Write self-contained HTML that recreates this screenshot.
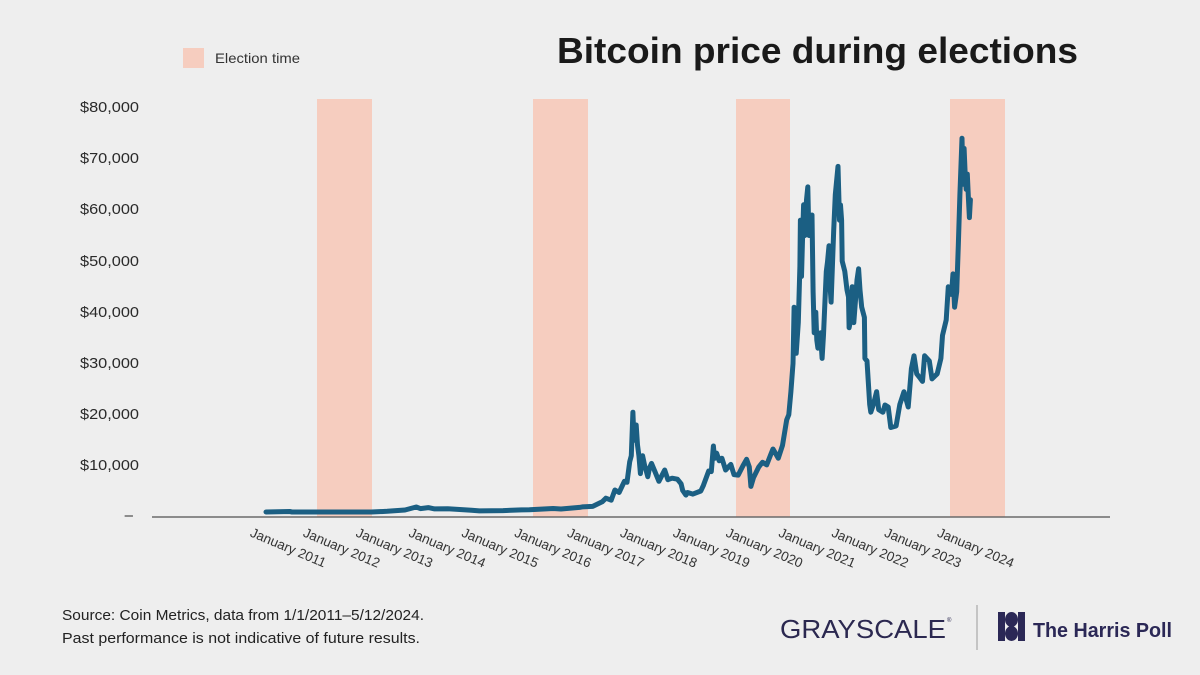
<!DOCTYPE html>
<html>
<head>
<meta charset="utf-8">
<style>
html,body{margin:0;padding:0;background:#eeeeee;}
svg{display:block;}
text{font-family:"Liberation Sans",sans-serif;}
</style>
</head>
<body>
<svg width="1200" height="675" viewBox="0 0 1200 675" xmlns="http://www.w3.org/2000/svg">
<rect x="0" y="0" width="1200" height="675" fill="#eeeeee"/>

<!-- Title -->
<text x="557" y="63" font-size="36" font-weight="bold" fill="#1a1a1a" textLength="521" lengthAdjust="spacingAndGlyphs">Bitcoin price during elections</text>

<!-- Legend -->
<rect x="183" y="48" width="21" height="20" fill="#f6cdbf"/>
<text x="215" y="63" font-size="14" fill="#333" textLength="85" lengthAdjust="spacingAndGlyphs">Election time</text>

<!-- Election bands -->
<rect x="317" y="99" width="55" height="418" fill="#f6cdbf"/>
<rect x="533" y="99" width="55" height="418" fill="#f6cdbf"/>
<rect x="736" y="99" width="54" height="418" fill="#f6cdbf"/>
<rect x="950" y="99" width="55" height="418" fill="#f6cdbf"/>

<!-- Y axis labels -->
<g font-size="15" fill="#2a2a2a" text-anchor="end">
<text x="139" y="112" textLength="59" lengthAdjust="spacingAndGlyphs">$80,000</text>
<text x="139" y="163" textLength="59" lengthAdjust="spacingAndGlyphs">$70,000</text>
<text x="139" y="214" textLength="59" lengthAdjust="spacingAndGlyphs">$60,000</text>
<text x="139" y="266" textLength="59" lengthAdjust="spacingAndGlyphs">$50,000</text>
<text x="139" y="317" textLength="59" lengthAdjust="spacingAndGlyphs">$40,000</text>
<text x="139" y="368" textLength="59" lengthAdjust="spacingAndGlyphs">$30,000</text>
<text x="139" y="419" textLength="59" lengthAdjust="spacingAndGlyphs">$20,000</text>
<text x="139" y="470" textLength="59" lengthAdjust="spacingAndGlyphs">$10,000</text>
<text x="133" y="520">–</text>
</g>

<!-- Price line -->
<polyline fill="none" stroke="#1b5f83" stroke-width="5" stroke-linejoin="round" stroke-linecap="round" points="
266,512 289.7,511.5 292,512 371.4,512 387.2,511.3 405,510 416.2,507 420.4,508.6 428.3,507.6 434.6,508.9 447.8,508.8 471.5,510.2 479.4,510.9 503.1,510.6 521.5,509.9 529.4,509.8 553.1,508.5 561,509 579.5,507.4 582.2,506.9 592.7,506.4 602.2,501.8 605.9,498.2 611.2,500.2 614.9,490 619.1,492.5 624.4,481.3 627,482.3 629.7,461.8 631.3,455.7 632.9,412.2 633.6,430 634.6,440.3 636.2,425 637.5,445 638.9,455.7 640.4,473.6 642.6,455.7 644.7,465.9 646,470 647.8,476.7 649.5,468 651.5,463.4 654.7,471 658.9,481.3 664.7,470 667.9,479.7 672.1,478.2 677.4,479.2 681.1,483.8 682.7,490.5 685.9,495.1 687.6,492.5 692.9,494.1 700.8,491 703.4,485.4 708.7,471 711.3,471.6 713.4,446 714.2,455 715,458.2 716.6,453.1 719.2,460.8 721.9,458.2 725.6,470 730.8,464.4 734,474.6 738.2,475.1 742.9,465.9 746.6,459.3 749.3,466.9 750.9,486.4 753.5,477.7 758.8,466.9 762.5,462.3 766.7,464.9 770.9,454.1 773,449 775.1,452.6 778.3,458.2 782.5,445.4 786.7,419.8 788.8,414.7 790.9,391.7 793,363.5 794.1,307.2 795,340 796.2,353.3 798.3,322.6 799.9,266.2 800.4,220.2 801.5,276.5 802.5,240 803.6,204.8 804.7,235.5 806.5,200 807.8,186.9 808.9,235.5 810,222 812,215 813.1,291.8 814.2,332.8 815.8,312.3 816.8,340 817.9,348.2 819,336 820.5,332.8 822.1,358.4 823.5,335 824.7,307.2 826.3,271.4 827.5,262 829,245.8 830,285 831.1,302.1 833.7,230.4 835.3,194.6 838,166.4 839.5,220.2 840.5,205 841.6,220.2 842.2,261.1 844.8,271.4 847,290 848.5,297 849.1,327.7 851.2,317.4 852.2,286.7 853.8,322.6 855.5,300 857,280 858.6,268.8 860,290 861.7,307.2 864.4,317.4 864.9,358.4 867,361 869.7,404.5 870.8,412.2 873.4,404.5 876.6,391.7 878.7,409.6 882.9,412.2 885,405 888.2,407 890.8,427.5 896.1,426 899.8,404.5 904,391.7 908.2,407 911.4,368.6 914,355.8 916.7,373.8 920,378 922.5,381.4 924.6,355.8 929.3,360.9 932,378.9 937.2,373.8 940.9,358.4 942.5,335.4 946.2,320 948.3,286.7 951.4,294.4 953,273.9 954.6,307.2 956.7,291.8 958.3,245.8 959.9,194.6 962,138.2 963.1,184.3 964.1,148.5 965,170 966.2,189.4 967.3,174.1 968.5,200 969.4,217.6 970.4,199.7"/>

<!-- X axis -->
<line x1="152" y1="517" x2="1110" y2="517" stroke="#6a6a6a" stroke-width="1.5"/>

<!-- X labels -->
<g font-size="13.5" fill="#333">
<text x="249.3" y="536" transform="rotate(23 249.3 536)">January 2011</text>
<text x="302.2" y="536" transform="rotate(23 302.2 536)">January 2012</text>
<text x="355" y="536" transform="rotate(23 355 536)">January 2013</text>
<text x="407.9" y="536" transform="rotate(23 407.9 536)">January 2014</text>
<text x="460.7" y="536" transform="rotate(23 460.7 536)">January 2015</text>
<text x="513.6" y="536" transform="rotate(23 513.6 536)">January 2016</text>
<text x="566.4" y="536" transform="rotate(23 566.4 536)">January 2017</text>
<text x="619.3" y="536" transform="rotate(23 619.3 536)">January 2018</text>
<text x="672.1" y="536" transform="rotate(23 672.1 536)">January 2019</text>
<text x="725" y="536" transform="rotate(23 725 536)">January 2020</text>
<text x="777.8" y="536" transform="rotate(23 777.8 536)">January 2021</text>
<text x="830.7" y="536" transform="rotate(23 830.7 536)">January 2022</text>
<text x="883.5" y="536" transform="rotate(23 883.5 536)">January 2023</text>
<text x="936.4" y="536" transform="rotate(23 936.4 536)">January 2024</text>
</g>

<!-- Footer -->
<text x="62" y="620" font-size="14.5" fill="#222" textLength="362" lengthAdjust="spacingAndGlyphs">Source: Coin Metrics, data from 1/1/2011–5/12/2024.</text>
<text x="62" y="643" font-size="14.5" fill="#222" textLength="358" lengthAdjust="spacingAndGlyphs">Past performance is not indicative of future results.</text>

<!-- Grayscale logo -->
<text x="780" y="638" font-size="26" fill="#2b2850" textLength="166" lengthAdjust="spacingAndGlyphs">GRAYSCALE</text>
<text x="947" y="622" font-size="6" fill="#2b2850">®</text>

<!-- Divider -->
<line x1="977" y1="605" x2="977" y2="650" stroke="#9a9a9a" stroke-width="1"/>

<!-- Harris Poll icon -->
<rect x="998" y="612" width="7" height="29" fill="#2b2856"/>
<rect x="1018" y="612" width="7" height="29" fill="#2b2856"/>
<ellipse cx="1011.5" cy="619.5" rx="6.5" ry="7.5" fill="#2b2856"/>
<ellipse cx="1011.5" cy="633.5" rx="6.5" ry="7.5" fill="#2b2856"/>
<text x="1033" y="637" font-size="20" font-weight="bold" fill="#2b2856" textLength="139" lengthAdjust="spacingAndGlyphs">The Harris Poll</text>
</svg>
</body>
</html>
